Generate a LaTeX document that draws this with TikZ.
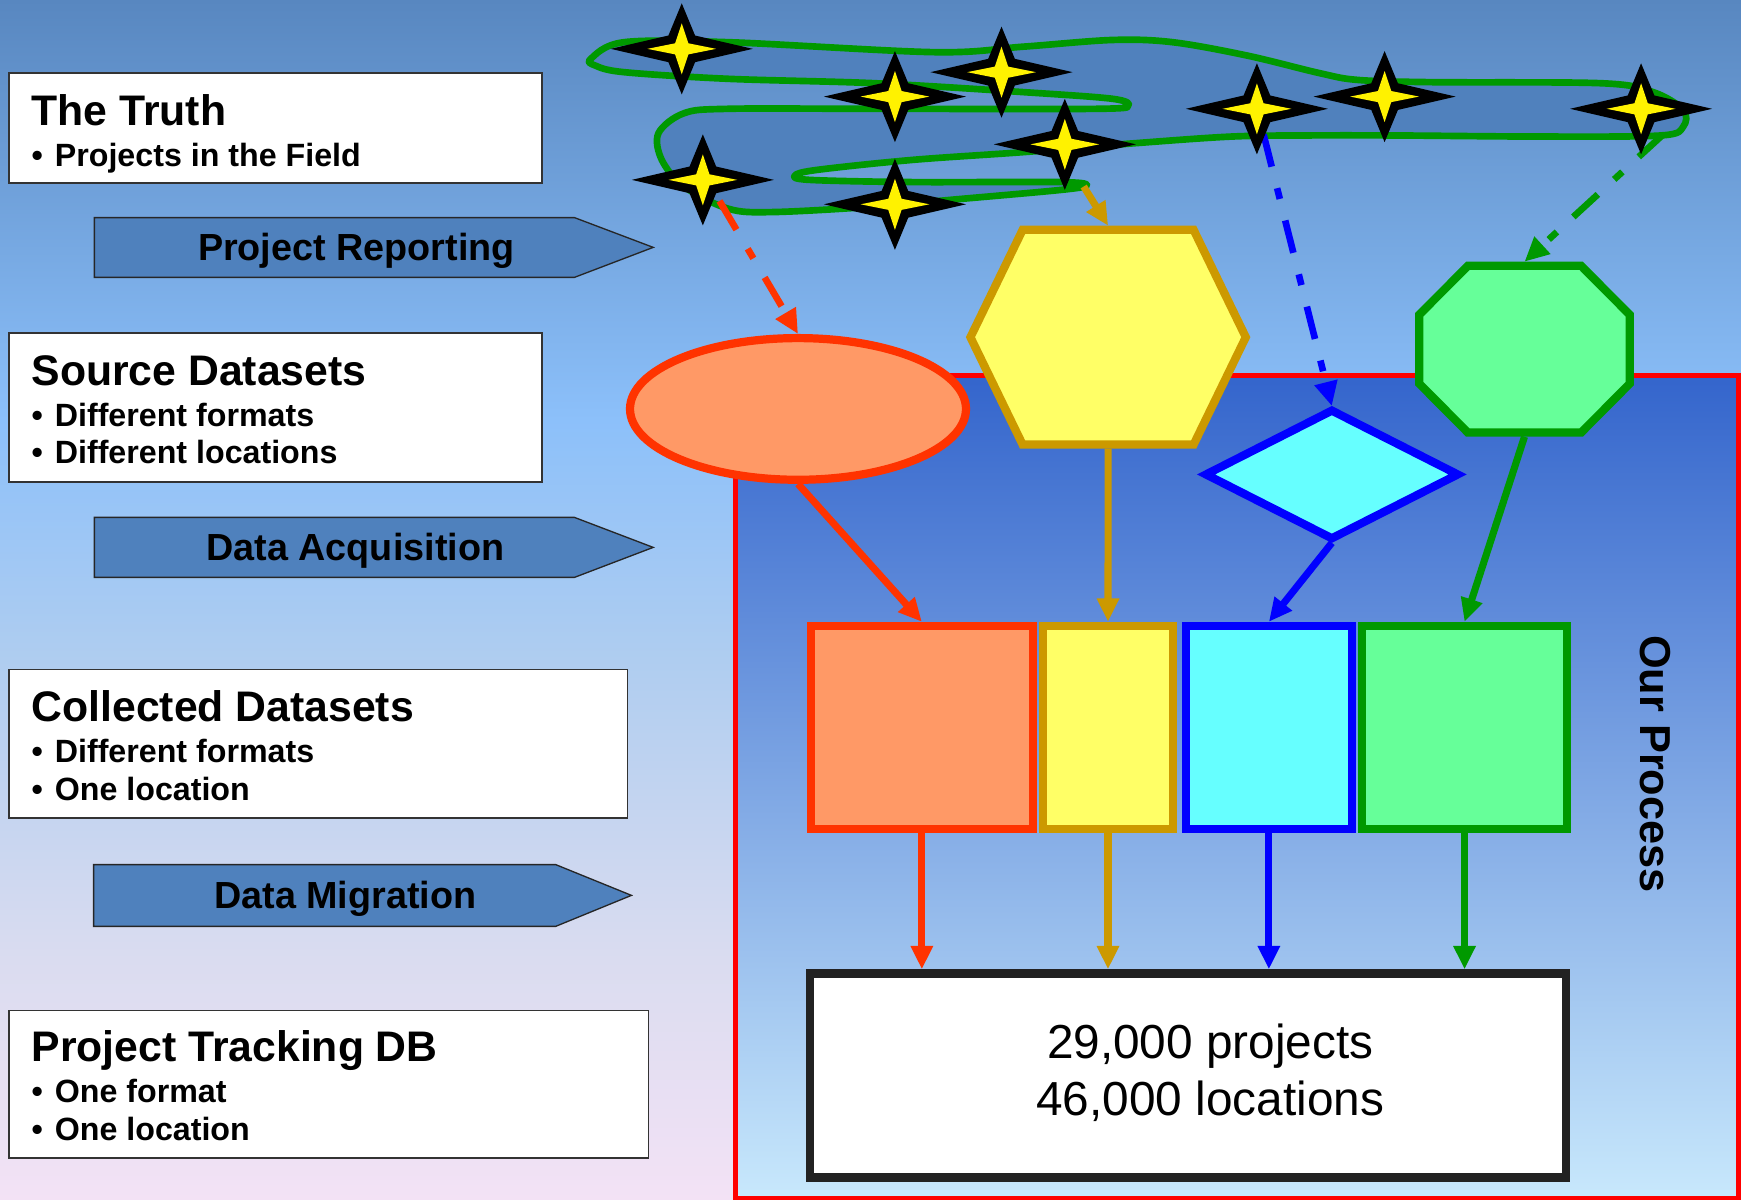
\documentclass[tikz,border=0pt]{standalone}
\usepackage{fontspec}
\setmainfont{Liberation Sans}
\usetikzlibrary{arrows.meta,calc,shapes.geometric}

\definecolor{bgtop}{RGB}{88,135,192}
\definecolor{bgb}{RGB}{140,192,250}
\definecolor{bgc}{RGB}{175,205,240}
\definecolor{bgd}{RGB}{218,220,240}
\definecolor{bgbot}{RGB}{243,226,245}
\pgfdeclareverticalshading{bgshade}{100bp}{color(0bp)=(bgbot); color(25bp)=(bgbot); color(35bp)=(bgd); color(47.5bp)=(bgc); color(57.5bp)=(bgb); color(75bp)=(bgtop); color(100bp)=(bgtop)}

\definecolor{banner}{RGB}{79,129,189}
\definecolor{blobfill}{RGB}{80,129,189}
\definecolor{orfill}{RGB}{255,153,102}
\definecolor{orline}{RGB}{255,51,0}
\definecolor{yefill}{RGB}{255,255,102}
\definecolor{goline}{RGB}{204,153,0}
\definecolor{cyfill}{RGB}{102,255,255}
\definecolor{blline}{RGB}{0,0,255}
\definecolor{grfill}{RGB}{102,255,153}
\definecolor{grline}{RGB}{0,153,0}
\definecolor{procTop}{RGB}{52,101,204}
\definecolor{procBot}{RGB}{200,232,252}
\definecolor{boxline}{RGB}{34,34,34}
\definecolor{procred}{RGB}{255,0,0}

\newcommand\bul{\makebox[10.5pt][l]{•}}

\begin{document}
\begin{tikzpicture}[x=0.5pt,y=-0.5pt,
  infobox/.style={draw=black!80, line width=0.75pt, fill=white, inner sep=0pt},
  titletext/.style={anchor=base west, inner sep=0pt, font=\bfseries\fontsize{19.25pt}{23pt}\selectfont},
  bultext/.style={anchor=base west, inner sep=0pt, font=\bfseries\fontsize{14.5pt}{17pt}\selectfont},
  bannertext/.style={anchor=base, inner sep=0pt, font=\bfseries\fontsize{17pt}{20pt}\selectfont},
  bannershape/.style={fill=banner, draw=black!85, line width=0.6pt},
  helper/.style={inner sep=0pt, draw=none, fill=none},
  shapeline/.style={line width=3.7pt, line join=miter},
  recbox/.style={line width=3.7pt, inner sep=0pt, minimum height=91.3pt},
  conn/.style={line width=3.2pt, -{Triangle[length=10.5pt,width=9.5pt]}},
  dconn/.style={line width=3pt, dash pattern=on 15pt off 10pt on 5pt off 10pt, -{Triangle[length=11pt,width=10pt]}},
  bigtext/.style={anchor=base, inner sep=0pt, font=\fontsize{21.5pt}{25pt}\selectfont},
  pics/sparkle/.style={code={
    \fill[black] (0,-41) -- (12,-12) -- (64,0) -- (12,12) -- (0,41) -- (-12,12) -- (-64,0) -- (-12,-12) -- cycle;
    \fill[yellow] (0,-23) -- (6,-5) -- (31,0) -- (6,5) -- (0,23) -- (-6,5) -- (-31,0) -- (-6,-5) -- cycle;
  }}
]
\useasboundingbox (0,0) rectangle (1568,1080);
\shade[shading=bgshade] (0,0) rectangle (1568,1080);

% process box
\node[draw=procred, line width=2.2pt, top color=procTop, bottom color=procBot, inner sep=0pt,
      minimum width=451.55pt, minimum height=370.3pt] (proc) at (1114,708.7) {};
\node[rotate=-90, inner sep=0pt, font=\bfseries\fontsize{19.5pt}{23pt}\selectfont] (proclabel) at (1491,688) {Our Process};

% left info boxes
\node[infobox, minimum width=240pt, minimum height=49.5pt] (truth) at (248,115.5) {};
\node[infobox, minimum width=240pt, minimum height=67pt] (source) at (248,367) {};
\node[infobox, minimum width=278.5pt, minimum height=67pt] (collected) at (286.5,670) {};
\node[infobox, minimum width=288pt, minimum height=66.5pt] (tracking) at (296,976.5) {};

\node[titletext] (truthT) at (28,113) {The Truth};
\node[bultext] (truthB1) at (28,150) {\bul Projects in the Field};

\node[titletext] (sourceT) at (28,347) {Source Datasets};
\node[bultext] (sourceB1) at (28,384.3) {\bul Different formats};
\node[bultext] (sourceB2) at (28,417.3) {\bul Different locations};

\node[titletext] (collT) at (28,650) {Collected Datasets};
\node[bultext] (collB1) at (28,686.6) {\bul Different formats};
\node[bultext] (collB2) at (28,721.4) {\bul One location};

\node[titletext] (trackT) at (28,956.3) {Project Tracking DB};
\node[bultext] (trackB1) at (28,992.9) {\bul One format};
\node[bultext] (trackB2) at (28,1027.6) {\bul One location};

% banners
\draw[bannershape] (85,196) -- (517.4,196) -- (588.3,222.8) -- (517.4,249.8) -- (85,249.8) -- cycle;
\node[bannertext] (bnPR) at (321,234.2) {Project Reporting};
\draw[bannershape] (85,466) -- (517.4,466) -- (588.3,493) -- (517.4,520) -- (85,520) -- cycle;
\node[bannertext] (bnDA) at (320,504.6) {Data Acquisition};
\draw[bannershape] (84.3,778.7) -- (500.5,778.7) -- (568.7,806.4) -- (500.5,834.3) -- (84.3,834.3) -- cycle;
\node[bannertext] (bnDM) at (311,817.8) {Data Migration};

% field blob
\filldraw[fill=blobfill, draw=grline, line width=3pt, line join=round]
  plot[smooth cycle, tension=0.55] coordinates {
  (532,53) (562,38) (656,38) (842,47) (922,42) (1002,36) (1056,38) (1123,50)
  (1189,66) (1223,72) (1289,74) (1443,75) (1489,83) (1516,99) (1516,114) (1496,122)
  (1389,123) (1256,122) (1176,122) (1109,123) (1022,129) (922,137) (822,144) (736,153)
  (716,158) (729,162) (822,164) (956,164) (979,167) (956,171) (856,180) (789,186)
  (696,191) (656,188) (616,168) (596,144) (593,120) (616,102) (656,98) (789,98)
  (989,98) (1016,95) (1002,89) (922,83) (789,75) (656,71) (562,65) (536,59)};

% shape anchors
\node[ellipse, draw=orline, fill=orfill, line width=3.7pt, inner sep=0pt,
      minimum width=151.3pt, minimum height=63.8pt] (ell) at (718.7,368.3) {};
\node[helper, minimum width=124pt, minimum height=96.7pt, outer sep=1.85pt] (hex) at (998,303.7) {};
\node[helper, minimum width=113.3pt, minimum height=57.5pt, outer sep=2.05pt] (dia) at (1199.5,427.3) {};
\node[helper, minimum width=94.8pt, minimum height=75.1pt, outer sep=1.85pt] (oct) at (1373,314.5) {};

% connector start points in the field
\coordinate (rs) at (648,181);
\coordinate (gs) at (976,168);
\coordinate (bs) at (1138,121);
\coordinate (ns) at (1498,121);

\draw[dconn, color=orline] (rs) -- (ell.north);
\draw[dconn, color=blline] (bs) -- (dia.north);
\draw[dconn, color=grline] (ns) -- (oct.north);
\draw[conn, color=goline] (gs) -- (hex.north);

% stars
\pic (st1) at (614,44) {sparkle};
\pic (st2) at (806,87) {sparkle};
\pic (st3) at (902,65) {sparkle};
\pic (st4) at (1132,98) {sparkle};
\pic (st5) at (1247,87) {sparkle};
\pic (st6) at (1478,98) {sparkle};
\pic (st7) at (959,130) {sparkle};
\pic (st8) at (633,162) {sparkle};
\pic (st9) at (806,184) {sparkle};

% polygons
\begin{scope}[shift={(hex.center)}]
  \filldraw[shapeline, fill=yefill, draw=goline] (-77,-96.7) -- (77,-96.7) -- (124,0) -- (77,96.7) -- (-77,96.7) -- (-124,0) -- cycle;
\end{scope}
\begin{scope}[shift={(dia.center)}]
  \filldraw[shapeline, fill=cyfill, draw=blline] (0,-57.5) -- (113.3,0) -- (0,57.5) -- (-113.3,0) -- cycle;
\end{scope}
\begin{scope}[shift={(oct.center)}]
  \filldraw[shapeline, fill=grfill, draw=grline] (-51,-75.1) -- (51,-75.1) -- (94.8,-31) -- (94.8,31) -- (51,75.1) -- (-51,75.1) -- (-94.8,31) -- (-94.8,-31) -- cycle;
\end{scope}

% collected rectangles
\node[recbox, draw=orline, fill=orfill, minimum width=100pt] (ro) at (830.25,655) {};
\node[recbox, draw=goline, fill=yefill, minimum width=58.4pt] (ry) at (997.9,655) {};
\node[recbox, draw=blline, fill=cyfill, minimum width=74.5pt] (rc) at (1142.8,655) {};
\node[recbox, draw=grline, fill=grfill, minimum width=92.3pt] (rg) at (1319,655) {};

% final box
\node[draw=boxline, fill=white, line width=3.75pt, inner sep=0pt,
      minimum width=340.65pt, minimum height=91.95pt] (db) at (1070,968.65) {};
\node[bigtext] (dbL1) at (1090,953) {29,000 projects};
\node[bigtext] (dbL2) at (1090,1005) {46,000 locations};

% connectors
\draw[conn, color=orline] (ell.south) -- (ro.north);
\draw[conn, color=goline] (hex.south) -- (ry.north);
\draw[conn, color=blline] (dia.south) -- (rc.north);
\draw[conn, color=grline] (oct.south) -- (rg.north);

\draw[conn, color=orline] (ro.south) -- (ro.south |- db.north);
\draw[conn, color=goline] (ry.south) -- (ry.south |- db.north);
\draw[conn, color=blline] (rc.south) -- (rc.south |- db.north);
\draw[conn, color=grline] (rg.south) -- (rg.south |- db.north);
\end{tikzpicture}
\end{document}
